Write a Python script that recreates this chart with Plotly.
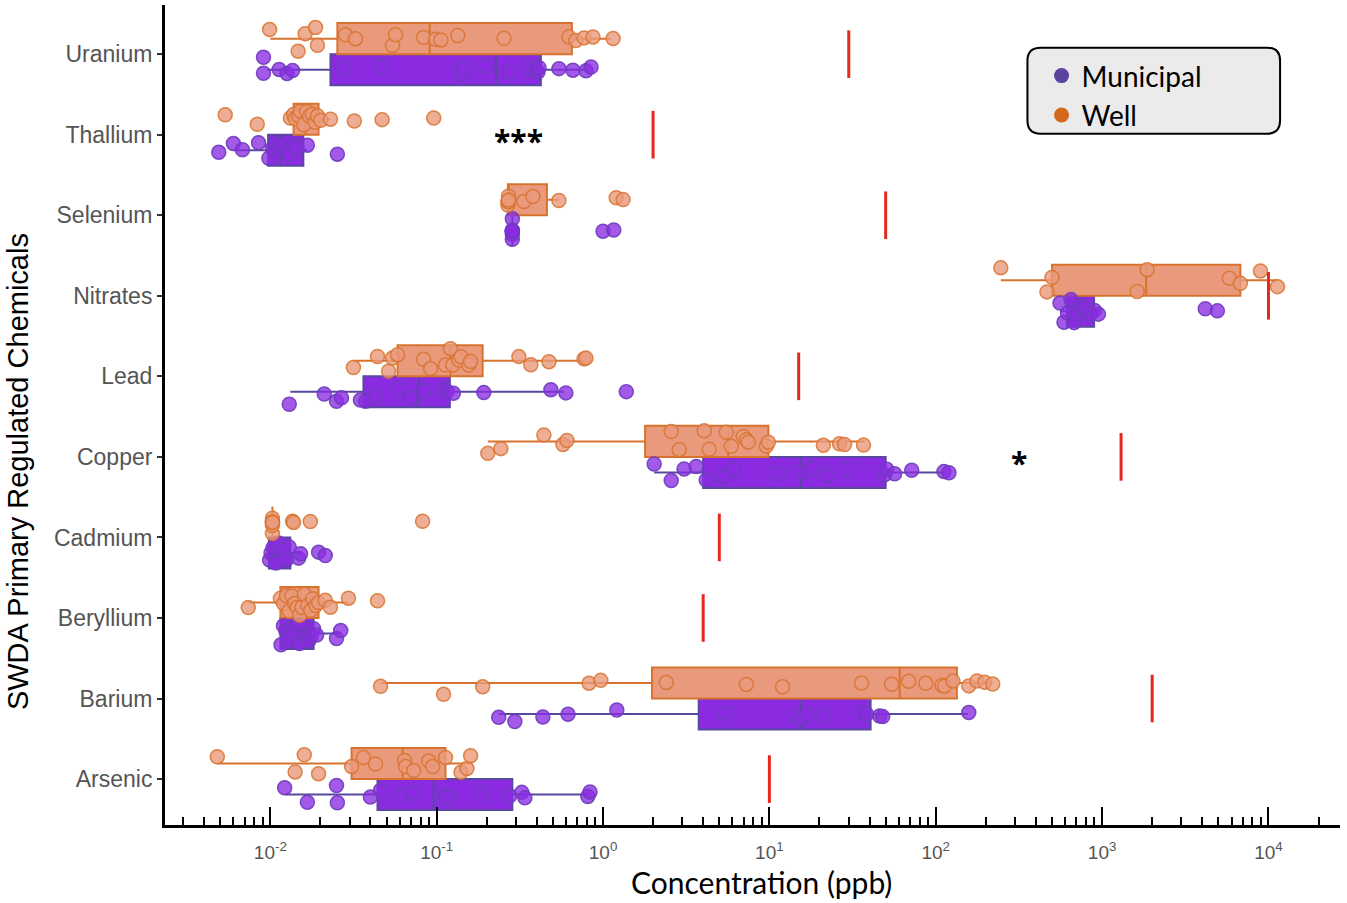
import math
import plotly.graph_objects as go

# categories, bottom to top
chemicals = ["Arsenic", "Barium", "Beryllium", "Cadmium", "Copper",
             "Lead", "Nitrates", "Selenium", "Thallium", "Uranium"]

# EPA MCL (ppb), same order
mcl = [10, 2000, 4, 5, 1300, 15, 10000, 50, 2, 30]

# box stats, well water
well_low = [0.0048, 0.046, 0.00737, 0.0103, 0.203, 0.0316, 246, 0.268, 0.0126, 0.0100]
well_q1 = [0.0308, 1.97, 0.0115, 0.0103, 1.79, 0.0582, 500, 0.268, 0.0138, 0.0253]
well_med = [0.0624, 60.7, 0.0152, 0.0103, 5.66, 0.121, 1841, 0.270, 0.0163, 0.0908]
well_q3 = [0.113, 134, 0.0195, 0.0103, 9.86, 0.189, 6780, 0.460, 0.0195, 0.650]
well_high = [0.160, 220, 0.0295, 0.0103, 37.3, 0.769, 11330, 0.543, 0.0230, 1.12]

# box stats, municipal water
muni_low = [0.0123, 0.236, 0.0115, 0.0098, 2.03, 0.0132, 558, 0.285, 0.0060, 0.0096]
muni_q1 = [0.0441, 3.76, 0.0115, 0.0098, 4.00, 0.0363, 615, 0.285, 0.0097, 0.0230]
muni_med = [0.096, 15.4, 0.0145, 0.0103, 15.4, 0.078, 737, 0.285, 0.0115, 0.227]
muni_q3 = [0.285, 40.6, 0.0182, 0.0132, 50.0, 0.120, 895, 0.285, 0.0158, 0.423]
muni_high = [0.810, 156, 0.0257, 0.0152, 113, 0.582, 959, 0.285, 0.0167, 0.810]

# individual samples (ppb)
arsenic_well = [0.0048, 0.0141, 0.016, 0.0195, 0.0308, 0.0363, 0.0429, 0.0641, 0.0651,
                0.0727, 0.0895, 0.0946, 0.113, 0.14, 0.152, 0.16]
arsenic_muni = [0.0122, 0.0167, 0.025, 0.0253, 0.04, 0.046, 0.0607, 0.0716, 0.112, 0.116,
                0.189, 0.275, 0.325, 0.339, 0.81, 0.835]
barium_well = [0.046, 0.11, 0.189, 0.824, 0.97, 2.4, 7.27, 12.0, 35.8, 54.3, 68.8, 87.1,
               109, 113, 127, 158, 177, 197, 220]
barium_muni = [0.236, 0.295, 0.435, 0.616, 1.21, 5.43, 14.5, 15.6, 16.7, 20.9, 35.8, 38.4,
               46.0, 48.0, 158]
beryllium_well = [0.00737, 0.0115, 0.012, 0.0125, 0.013, 0.0135, 0.014, 0.0145, 0.015,
                  0.0155, 0.016, 0.0168, 0.0175, 0.018, 0.0188, 0.0195, 0.0214, 0.023,
                  0.0295, 0.0441]
beryllium_muni = [0.0116, 0.012, 0.0124, 0.0128, 0.0132, 0.0136, 0.014, 0.0145, 0.015,
                  0.0155, 0.016, 0.0165, 0.017, 0.0176, 0.0182, 0.019, 0.025, 0.0265]
cadmium_well = [0.0103, 0.0103, 0.0103, 0.0103, 0.0103, 0.0103, 0.0136, 0.0138, 0.0174, 0.0823]
cadmium_muni = [0.0099, 0.0101, 0.0104, 0.0108, 0.0112, 0.0118, 0.0125, 0.013, 0.0148,
                0.0152, 0.0195, 0.0214]
copper_well = [0.203, 0.243, 0.441, 0.574, 0.607, 2.57, 2.87, 4.06, 4.35, 5.51, 5.9, 6.97,
               7.27, 7.47, 9.59, 9.86, 21.1, 26.4, 28.3, 36.8]
copper_muni = [2.03, 2.57, 3.07, 3.63, 4.17, 5.28, 6.07, 11.3, 15.6, 17.9, 22.0, 29.1, 49.3,
               50.7, 56.6, 71.7, 112, 120]
lead_well = [0.0316, 0.0441, 0.0514, 0.0543, 0.0582, 0.0835, 0.092, 0.113, 0.121, 0.125,
             0.136, 0.14, 0.156, 0.16, 0.312, 0.368, 0.473, 0.769, 0.79]
lead_muni = [0.013, 0.0211, 0.025, 0.0268, 0.0348, 0.0374, 0.0429, 0.059, 0.0697, 0.0835,
             0.109, 0.116, 0.126, 0.192, 0.486, 0.598, 1.38]
nitrates_well = [246, 466, 500, 1625, 1866, 5821, 6780, 8950, 11330]
nitrates_muni = [558, 590, 620, 650, 680, 710, 740, 770, 800, 850, 900, 950, 4170, 4930]
selenium_well = [0.268, 0.268, 0.27, 0.27, 0.27, 0.334, 0.379, 0.543, 1.2, 1.32]
selenium_muni = [0.285, 0.285, 0.285, 0.285, 0.285, 0.285, 0.285, 0.285, 1.0, 1.16]
thallium_well = [0.00536, 0.00835, 0.0132, 0.0138, 0.0141, 0.0148, 0.0152, 0.0159, 0.0165,
                 0.0172, 0.0179, 0.0186, 0.0192, 0.0201, 0.023, 0.032, 0.047, 0.096]
thallium_muni = [0.0049, 0.006, 0.0068, 0.0085, 0.0098, 0.0103, 0.0108, 0.0112, 0.0118,
                 0.0125, 0.013, 0.0138, 0.0145, 0.0167, 0.0253]
uranium_well = [0.0099, 0.0147, 0.0162, 0.0187, 0.0192, 0.0283, 0.0325, 0.0543, 0.0566,
                0.0835, 0.0986, 0.106, 0.134, 0.254, 0.624, 0.687, 0.769, 0.87, 1.15]
uranium_muni = [0.0091, 0.0091, 0.0113, 0.0126, 0.0136, 0.0272, 0.046, 0.14, 0.146, 0.197,
                0.272, 0.358, 0.395, 0.406, 0.412, 0.543, 0.659, 0.79, 0.847]

well_samples = [arsenic_well, barium_well, beryllium_well, cadmium_well, copper_well,
                lead_well, nitrates_well, selenium_well, thallium_well, uranium_well]
muni_samples = [arsenic_muni, barium_muni, beryllium_muni, cadmium_muni, copper_muni,
                lead_muni, nitrates_muni, selenium_muni, thallium_muni, uranium_muni]

# significance marks
sig_labels = ["***", "*"]
sig_chem = ["Thallium", "Copper"]
sig_x = [0.31, 316]

tick_exps = [-2, -1, 0, 1, 2, 3, 4]

WELL_FILL = "#EA9A7C"
WELL_LINE = "#D8732F"
MUNI_FILL = "#8A2BE2"
MUNI_LINE = "#58489F"


def flatten(groups):
    xs, ys = [], []
    for name, vals in zip(chemicals, groups):
        xs += vals
        ys += [name] * len(vals)
    return xs, ys


fig = go.Figure()

# boxes (municipal first -> lower slot)
fig.add_trace(go.Box(
    y=chemicals, q1=muni_q1, median=muni_med, q3=muni_q3,
    lowerfence=muni_low, upperfence=muni_high, orientation="h",
    offsetgroup="muni", fillcolor=MUNI_FILL, line=dict(color=MUNI_LINE, width=2),
    whiskerwidth=0, boxpoints=False, showlegend=False, hoverinfo="skip"))
fig.add_trace(go.Box(
    y=chemicals, q1=well_q1, median=well_med, q3=well_q3,
    lowerfence=well_low, upperfence=well_high, orientation="h",
    offsetgroup="well", fillcolor=WELL_FILL, line=dict(color=WELL_LINE, width=2),
    whiskerwidth=0, boxpoints=False, showlegend=False, hoverinfo="skip"))

# jittered points
mx, my = flatten(muni_samples)
wx, wy = flatten(well_samples)
fig.add_trace(go.Box(
    x=mx, y=my, orientation="h", offsetgroup="muni", boxpoints="all",
    jitter=0.85, pointpos=0, fillcolor="rgba(0,0,0,0)", line=dict(width=0),
    marker=dict(size=14, color="rgba(138,43,226,0.78)",
                line=dict(color="rgba(110,60,190,0.9)", width=1.5)),
    showlegend=False))
fig.add_trace(go.Box(
    x=wx, y=wy, orientation="h", offsetgroup="well", boxpoints="all",
    jitter=0.85, pointpos=0, fillcolor="rgba(0,0,0,0)", line=dict(width=0),
    marker=dict(size=14, color="rgba(234,154,124,0.8)",
                line=dict(color="rgba(216,115,47,0.85)", width=1.5)),
    showlegend=False))

# MCL markers
fig.add_trace(go.Scatter(
    x=mcl, y=chemicals, mode="markers",
    marker=dict(symbol="line-ns", size=34, line=dict(color="#E5281E", width=3)),
    showlegend=False, hoverinfo="skip"))

# legend entries
fig.add_trace(go.Scatter(x=[None], y=[None], mode="markers", name="Municipal",
                         marker=dict(size=15, color="#5A44A0")))
fig.add_trace(go.Scatter(x=[None], y=[None], mode="markers", name="Well",
                         marker=dict(size=15, color="#D2691E")))

for lab, chem, xv in zip(sig_labels, sig_chem, sig_x):
    fig.add_annotation(x=math.log10(xv), y=chem, text="<b>" + lab + "</b>",
                       showarrow=False, yshift=-6, font=dict(size=30, color="black"))

# axis titles placed as in the reference
fig.add_annotation(x=0.508, y=-0.0695, xref="paper", yref="paper",
                   text="Concentration (ppb)", showarrow=False,
                   xanchor="center", yanchor="middle",
                   font=dict(family="Lato", size=30, color="black"))
fig.add_annotation(x=-0.125, y=0.4305, xref="paper", yref="paper",
                   text="SWDA Primary Regulated Chemicals", showarrow=False,
                   textangle=-90, xanchor="center", yanchor="middle",
                   font=dict(family="Liberation Sans", size=29, color="black"))

# rounded legend frame (paper coords)
x0, x1, y0, y1 = 0.734, 0.949, 0.843, 0.948
rx, ry = 0.011, 0.016
path = (f"M {x0+rx},{y0} L {x1-rx},{y0} Q {x1},{y0} {x1},{y0+ry} "
        f"L {x1},{y1-ry} Q {x1},{y1} {x1-rx},{y1} L {x0+rx},{y1} "
        f"Q {x0},{y1} {x0},{y1-ry} L {x0},{y0+ry} Q {x0},{y0} {x0+rx},{y0} Z")
fig.add_shape(type="path", path=path, xref="paper", yref="paper",
              fillcolor="#EBEBEB", line=dict(color="black", width=2), layer="above")

minor_vals = [k * 10.0 ** e for e in [-3] + tick_exps for k in range(2, 10)]

fig.update_layout(
    width=1347, height=903,
    margin=dict(l=165, r=7, t=5, b=78),
    plot_bgcolor="white", paper_bgcolor="white",
    boxmode="group", boxgap=0.23, boxgroupgap=0,
    legend=dict(x=0.746, y=0.944, xanchor="left", yanchor="top",
                bgcolor="rgba(0,0,0,0)", font=dict(family="Lato", size=28, color="black"),
                tracegroupgap=0, itemsizing="trace"),
    xaxis=dict(
        type="log", range=[-2.633, 4.43],
        tickmode="array", tickvals=[10.0 ** e for e in tick_exps],
        ticktext=[f"10<sup>{e}</sup>" for e in tick_exps],
        ticks="inside", ticklen=18, tickwidth=2, tickcolor="black",
        minor=dict(tickmode="array", tickvals=minor_vals, ticks="inside",
                   ticklen=8, tickwidth=1.5, tickcolor="black"),
        showgrid=False, zeroline=False,
        showline=True, linewidth=3, linecolor="black",
        ticklabelstandoff=8,
        tickfont=dict(family="Liberation Sans", size=19, color="#555555"),
    ),
    yaxis=dict(
        type="category", categoryorder="array", categoryarray=chemicals,
        range=[-0.57, 9.61],
        ticks="outside", ticklen=5, tickwidth=1.5, tickcolor="#333333",
        showgrid=False, zeroline=False,
        showline=True, linewidth=3, linecolor="black",
        tickfont=dict(family="Liberation Sans", size=23, color="#555555"),
    ),
)

fig.write_html("out.html", config={"displayModeBar": False},
               post_script="document.body.style.margin='0px';")
